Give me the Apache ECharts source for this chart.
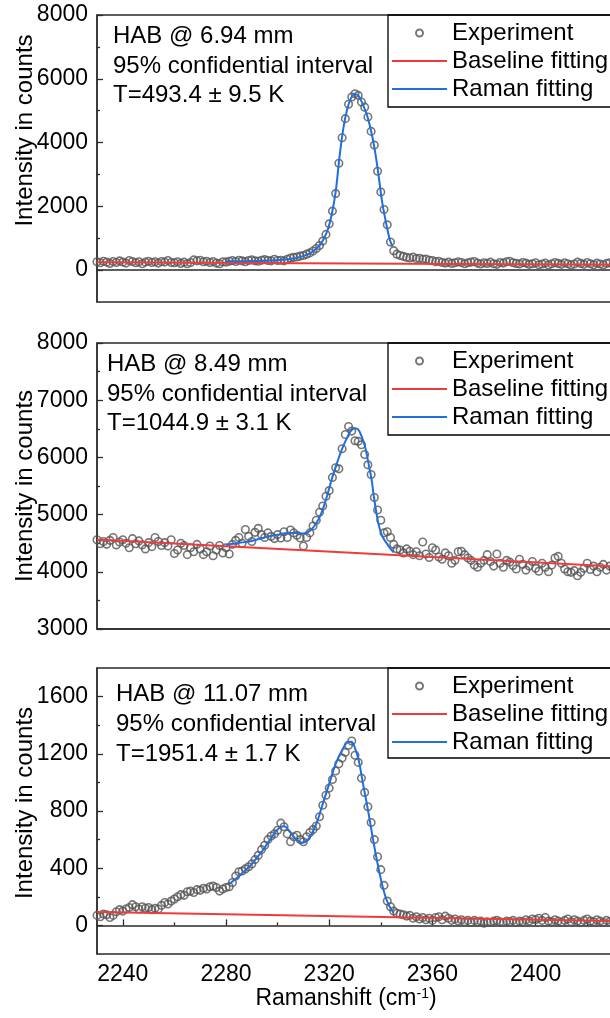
<!DOCTYPE html>
<html><head><meta charset="utf-8">
<script src="https://cdn.jsdelivr.net/npm/echarts@6/dist/echarts.min.js"></script>
<style>html,body{margin:0;padding:0;background:#fff;}#c{width:610px;height:1018px;}</style>
</head><body><div id="c"></div>
<script>
// ---- x sampling grid (Raman shift, cm-1) ----
const xStart = 2230, xStep = 1.25;
const xLabelTicks = [2240, 2280, 2320, 2360, 2400];
const xMinorTicks = [2260, 2300, 2340, 2380, 2420];

// ---- panel 1 : HAB 6.94 mm ----
const exp1 = [260,230,280,250,210,270,240,290, 250,220,300,270,230,260,200,250,
  280,240,260,220,270,250,300,240, 230,260,210,250,200,240,320,290,
  310,260,280,240,270,220,200,260, 250,280,300,270,310,290,260,300,
  320,290,280,310,330,300,290,340, 300,310,290,340,380,400,410,440,
  460,500,540,600,680,770,910,1120, 1450,1850,2400,3350,4150,4750,5200,5430,
  5530,5480,5270,5110,4800,4350,3920,3100, 2450,1900,1420,880,610,500,460,430,
  400,380,410,360,370,340,350,310, 300,260,280,240,220,250,210,230,
  260,240,200,230,250,270,220,190, 230,210,250,200,180,240,220,260,
  280,230,210,190,240,220,180,200, 230,170,190,220,160,200,240,210,
  180,230,200,160,190,250,210,180, 240,200,170,220,190,160,210,230,180];
const base1 = [[2230,245],[2430,170]];
const fit1 = [[2280,275],[2290,285],[2298,300],[2304,340],[2308,400],[2311,470],[2313,550],
  [2315,680],[2316.5,800],[2318,1000],[2319.5,1280],[2321,1750],[2322.5,2450],[2324,3550],
  [2325.5,4450],[2327,5050],[2328.5,5400],[2330,5520],[2331.5,5450],[2333,5200],[2334.5,4900],
  [2336,4450],[2337.5,3850],[2339,3050],[2340.5,2150],[2342,1500],[2343.5,950],[2344.5,750]];

// ---- panel 2 : HAB 8.49 mm ----
const exp2 = [4560,4490,4530,4480,4550,4600,4470,4520, 4560,4500,4420,4580,4490,4540,4470,4400,
  4510,4440,4600,4530,4460,4510,4450,4560, 4320,4380,4500,4460,4300,4420,4350,4480,
  4400,4300,4350,4450,4280,4380,4460,4330, 4420,4310,4480,4550,4600,4500,4740,4620,
  4530,4690,4760,4650,4600,4680,4620,4580, 4650,4590,4700,4600,4730,4680,4640,4590,
  4450,4600,4680,4800,4900,5040,5150,5320, 5420,5650,5820,5800,6150,6400,6540,6460,
  6290,6280,6220,6050,5870,5700,5300,5080, 4900,4680,4700,4600,4480,4400,4380,4330,
  4400,4360,4300,4350,4280,4520,4310,4250, 4420,4380,4260,4220,4330,4280,4150,4200,
  4350,4360,4300,4240,4200,4120,4080,4150, 4200,4300,4180,4100,4310,4150,4080,4200,
  4170,4110,4050,4220,4130,4030,4100,4180, 4060,4010,4150,4080,4000,4120,4240,4270,
  4150,4050,4000,3990,4020,3930,3990,4060, 4150,4040,4100,4000,4080,4130,4030,4100,4060];
const base2 = [[2230,4565],[2430,4095]];
const fit2 = [[2280,4475],[2285,4505],[2290,4540],[2295,4600],[2300,4650],[2304,4680],[2307,4680],
  [2310,4670],[2312.5,4715],[2315,4850],[2317,5030],[2319,5300],[2321,5620],[2323,5900],
  [2325,6150],[2327,6350],[2328.5,6470],[2330,6510],[2331.2,6490],[2332.5,6375],[2334,6170],
  [2335.2,5900],[2336.4,5620],[2337.3,5320],[2338.3,5030],[2339.3,4800],[2340.6,4620],
  [2342.2,4505],[2343.5,4420],[2345,4340]];

// ---- panel 3 : HAB 11.07 mm ----
const exp3 = [70,60,80,75,55,70,95,110, 100,115,125,145,130,115,130,120,
  125,110,120,115,140,160,150,170, 185,200,215,210,235,240,230,250,
  245,260,255,270,275,265,240,255, 265,270,300,345,375,380,395,410,
  430,460,490,530,560,600,625,640, 665,715,690,640,585,620,630,600,
  585,620,650,670,695,760,840,910, 960,1020,1080,1130,1170,1210,1260,1290,
  1190,1140,1030,930,830,720,600,480, 390,280,170,130,100,85,80,75,
  65,70,50,60,45,55,40,50, 35,55,60,40,65,50,35,45,
  30,40,25,35,20,35,25,30, 15,25,20,30,35,25,20,30,
  25,35,20,30,25,40,30,45, 40,50,35,55,30,25,40,30,
  20,35,45,25,40,30,20,35, 45,30,25,40,30,20,35,25,30];
const base3 = [[2230,93],[2430,30]];
const fit3 = [[2281,286],[2285,344],[2290,430],[2294,519],[2298,624],[2300.5,680],[2302.5,693],
  [2304.5,660],[2307,605],[2309.5,578],[2312,605],[2315,710],[2317.5,850],[2320,990],
  [2322.5,1130],[2325,1225],[2327,1280],[2328.5,1285],[2330,1240],[2331.5,1150],[2333,1000],
  [2335,810],[2337,600],[2339,410],[2341,250],[2343,145],[2345,88]];

// ---- axes tick values ----
const yRanges = [[-1000, 8000], [3000, 8000], [-200, 1800]];
const yLabelTicks = [[0,2000,4000,6000,8000],[3000,4000,5000,6000,7000,8000],[0,400,800,1200,1600]];
const yMinorTicks = [[1000,3000,5000,7000],[3500,4500,5500,6500,7500],[200,600,1000,1400]];

const annotations = [
  'HAB @ 6.94 mm\n95% confidential interval\nT=493.4 ± 9.5 K',
  'HAB @ 8.49 mm\n95% confidential interval\nT=1044.9 ± 3.1 K',
  'HAB @ 11.07 mm\n95% confidential interval\nT=1951.4 ± 1.7 K'];
const seriesNames = ['Experiment', 'Baseline fitting', 'Raman fitting'];

// ---- layout ----
const FONT = 'Liberation Sans, Arial, sans-serif';
const gridTops = [15, 343, 668];
const gridHeights = [287, 286, 286];
const legendHeights = [92, 92, 90];
const annLeft = [113, 107, 116];
const annTop = [22, 350, 679];
const annLH = [29.5, 29.5, 30];
const yNamePad = [[0,0,0,56],[0,0,0,0],[0,0,0,16]];
const AXC = '#2a2a2a';
const LINE_ICON = 'path://M0,0H55V2H0Z';

const toPts = arr => arr.map((v, i) => [xStart + i * xStep, v]);
const exps = [exp1, exp2, exp3], bases = [base1, base2, base3], fits = [fit1, fit2, fit3];

const grid = gridTops.map((t, i) => ({left: 97, right: -3, top: t, height: gridHeights[i],
  outerBoundsMode: 'none', containLabel: false,
  show: true, borderColor: AXC, borderWidth: 1.3, backgroundColor: 'transparent'}));

const xAxis = [0,1,2].map(i => ({
  type: 'value', gridIndex: i, min: 2230, max: 2430,
  axisLine: {show: true, lineStyle: {color: AXC, width: 1.5}},
  axisTick: {show: i === 2, inside: true, length: 6, customValues: xLabelTicks, lineStyle: {color: AXC, width: 1.3}},
  axisLabel: {show: i === 2, customValues: xLabelTicks, formatter: v => String(v), fontSize: 23,
    color: '#000', fontFamily: FONT, margin: 9},
  splitLine: {show: false},
  name: i === 2 ? 'Ramanshift (cm{sup|-1})' : '', nameLocation: 'middle', nameGap: 33, nameMoveOverlap: false,
  nameTextStyle: {fontSize: 23, color: '#000', fontFamily: FONT, padding: [0, 18, 0, 0],
    rich: {sup: {fontSize: 14, color: '#000', fontFamily: FONT, verticalAlign: 'top', lineHeight: 14}}}
}));
xAxis.push({type: 'value', gridIndex: 2, min: 2230, max: 2430, position: 'bottom',
  axisLine: {show: false}, axisLabel: {show: false}, splitLine: {show: false},
  axisTick: {show: true, inside: true, length: 3, customValues: xMinorTicks, lineStyle: {color: AXC, width: 1.3}}});

const yAxis = [0,1,2].map(i => ({
  type: 'value', gridIndex: i, min: yRanges[i][0], max: yRanges[i][1], position: 'left',
  axisLine: {show: true, lineStyle: {color: AXC, width: 1.5}},
  axisTick: {show: true, inside: true, length: 6, customValues: yLabelTicks[i], lineStyle: {color: AXC, width: 1.3}},
  axisLabel: {customValues: yLabelTicks[i], formatter: v => String(v), fontSize: 23, color: '#000',
    fontFamily: FONT, margin: 9},
  splitLine: {show: false},
  name: 'Intensity in counts', nameLocation: 'middle', nameGap: 59, nameMoveOverlap: false,
  nameTextStyle: {fontSize: 24, color: '#000', fontFamily: FONT, lineHeight: 26, padding: yNamePad[i]}
}));
[0,1,2].forEach(i => yAxis.push({type: 'value', gridIndex: i, min: yRanges[i][0], max: yRanges[i][1],
  position: 'left', axisLine: {show: false}, axisLabel: {show: false}, splitLine: {show: false},
  axisTick: {show: true, inside: true, length: 3, customValues: yMinorTicks[i], lineStyle: {color: AXC, width: 1.3}}}));

const series = [];
[0,1,2].forEach(i => {
  series.push({name: seriesNames[0], type: 'scatter', xAxisIndex: i, yAxisIndex: i, data: toPts(exps[i]),
    symbol: 'circle', symbolSize: 7.5, z: 2,
    itemStyle: {color: 'rgba(0,0,0,0)', borderColor: '#555555', borderWidth: 1.6}});
  series.push({name: seriesNames[1], type: 'line', xAxisIndex: i, yAxisIndex: i, data: bases[i],
    symbol: 'none', showSymbol: false, z: 3, lineStyle: {color: '#ef3b3b', width: 2}, itemStyle: {color: '#ef3b3b'}});
  series.push({name: seriesNames[2], type: 'line', xAxisIndex: i, yAxisIndex: i, data: fits[i],
    symbol: 'none', showSymbol: false, smooth: 0.4, z: 4, lineStyle: {color: '#1f6fdc', width: 2}, itemStyle: {color: '#1f6fdc'}});
});

const legend = gridTops.map(t => ({
  data: [{name: seriesNames[0]}, {name: seriesNames[1], icon: LINE_ICON}, {name: seriesNames[2], icon: LINE_ICON}],
  orient: 'vertical', left: 388, top: t,
  itemWidth: 55, itemHeight: 7, itemGap: 0, padding: [4, 4, 4, 4],
  borderWidth: 0, backgroundColor: 'transparent', selectedMode: false,
  textStyle: {fontSize: 24, lineHeight: 28, color: '#000', fontFamily: FONT}
}));

// legend frames (extend past the right edge, as in the cropped original)
const graphic = gridTops.map((t, i) => ({type: 'rect', silent: true, z: 100,
  shape: {x: 388, y: t, width: 260, height: legendHeights[i]},
  style: {fill: 'none', stroke: '#000', lineWidth: 1.3}}));

const title = annotations.map((txt, i) => ({text: txt, left: annLeft[i], top: annTop[i], padding: 0,
  textStyle: {fontSize: 24, fontWeight: 'normal', color: '#000', fontFamily: FONT, lineHeight: annLH[i]}}));

const chart = echarts.init(document.getElementById('c'), null, {renderer: 'canvas'});
chart.setOption({animation: false, backgroundColor: '#fff', title, legend, grid, xAxis, yAxis, series, graphic});
</script></body></html>
